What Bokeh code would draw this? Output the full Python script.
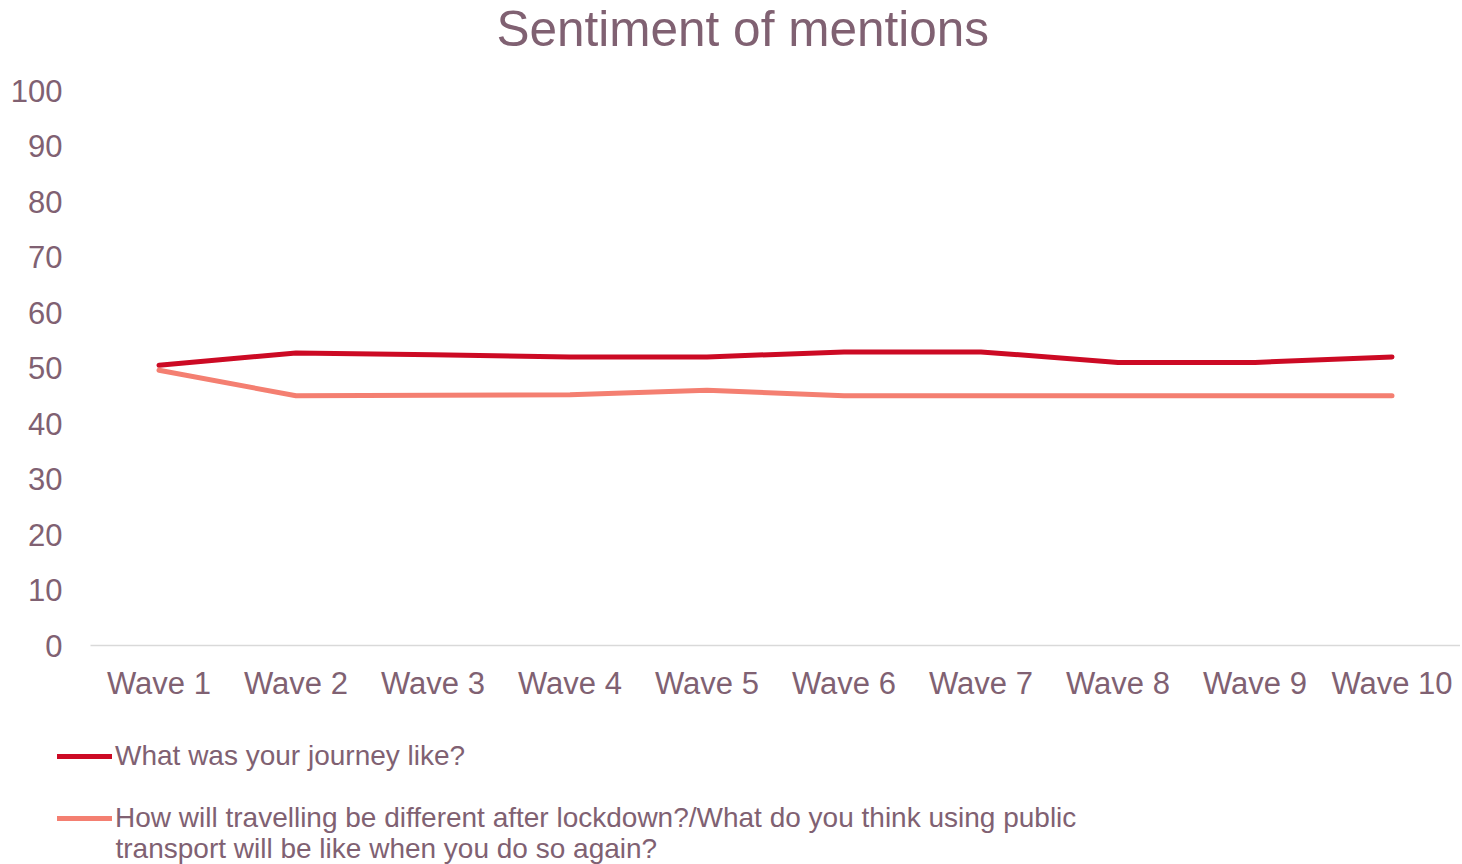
from bokeh.plotting import figure
from bokeh.models import FactorRange, Range1d, FixedTicker, Legend, LegendItem, Label
from bokeh.embed import file_html
from bokeh.resources import INLINE

waves = ["Wave 1", "Wave 2", "Wave 3", "Wave 4", "Wave 5",
         "Wave 6", "Wave 7", "Wave 8", "Wave 9", "Wave 10"]
journey = [50.5, 52.7, 52.4, 52.0, 52.0, 52.9, 52.9, 51.0, 51.0, 52.0]
after_lockdown = [49.6, 45.0, 45.1, 45.2, 46.0, 45.0, 45.0, 45.0, 45.0, 45.0]
y_ticks = [0, 10, 20, 30, 40, 50, 60, 70, 80, 90, 100]
label_journey = "What was your journey like?"
label_after_1 = "How will travelling be different after lockdown?/What do you think using public"
label_after_2 = "transport will be like when you do so again?"
title_text = "Sentiment of mentions"

TEXT = "#806172"
RED = "#CC0A24"
SALMON = "#F47F71"
FONT = "Liberation Sans"
W = 1460

# title strip
p0 = figure(x_range=Range1d(0, 1), y_range=Range1d(0, 1), width=W, height=60,
            output_backend="svg", toolbar_location=None,
            x_axis_location=None, y_axis_location=None, min_border=0)
p0.grid.visible = False
p0.outline_line_color = None
p0.add_layout(Label(x=496, y=32, x_units="screen", y_units="screen",
                    text=title_text, text_font=FONT, text_font_size="49.5px",
                    text_color=TEXT, text_baseline="middle"))

p = figure(x_range=FactorRange(*waves, range_padding=0), y_range=Range1d(0, 100),
           width=W, height=668, output_backend="svg", toolbar_location=None,
           min_border_left=90, min_border_right=0, min_border_top=30,
           min_border_bottom=83)
p.outline_line_color = None
p.grid.visible = False

p.yaxis.ticker = FixedTicker(ticks=y_ticks)
p.yaxis.axis_line_color = None
p.yaxis.major_tick_line_color = None
p.yaxis.minor_tick_line_color = None
p.yaxis.major_label_text_font = FONT
p.yaxis.major_label_text_font_size = "31px"
p.yaxis.major_label_text_color = TEXT
p.yaxis.major_label_standoff = 22

p.xaxis.axis_line_color = "#D9D9D9"
p.xaxis.axis_line_width = 1.5
p.xaxis.major_tick_line_color = None
p.xaxis.minor_tick_line_color = None
p.xaxis.major_label_text_font = FONT
p.xaxis.major_label_text_font_size = "31px"
p.xaxis.major_label_text_color = TEXT
p.xaxis.major_label_standoff = 14

line_kw = dict(line_width=5, line_cap="round", line_join="round")
p.line(waves, journey, line_color=RED, **line_kw)
p.line(waves, after_lockdown, line_color=SALMON, **line_kw)

# legend panel: same series, drawn out of view so only the legend swatches show
p2 = figure(x_range=FactorRange(*waves, range_padding=0), y_range=Range1d(1000, 1100),
            width=W, height=136, output_backend="svg", toolbar_location=None,
            x_axis_location=None, y_axis_location=None, min_border=0)
p2.grid.visible = False
p2.outline_line_color = None
l1 = p2.line(waves, journey, line_color=RED, **line_kw)
l2 = p2.line(waves, after_lockdown, line_color=SALMON, **line_kw)

legend = Legend(items=[LegendItem(label=label_journey, renderers=[l1]),
                       LegendItem(label=label_after_1, renderers=[l2])],
                location=(57, 30), glyph_width=55, glyph_height=30,
                label_standoff=3, padding=0, margin=0, spacing=30,
                label_text_font=FONT, label_text_font_size="28px",
                label_text_color=TEXT, border_line_color=None,
                background_fill_alpha=0)
p2.add_layout(legend, "center")
p2.add_layout(Label(x=115, y=16, x_units="screen", y_units="screen",
                    text=label_after_2, text_font=FONT, text_font_size="28px",
                    text_color=TEXT, text_baseline="middle"))

open("out.html", "w").write(file_html([p0, p, p2], INLINE))
